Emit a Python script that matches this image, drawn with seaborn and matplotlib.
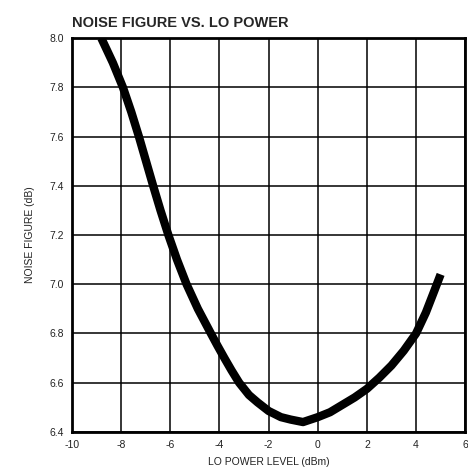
import matplotlib
matplotlib.use("Agg")
import matplotlib.pyplot as plt
import seaborn as sns
import pandas as pd

# values
lo_power = [-8.81, -8.34, -7.93, -7.59, -7.28, -6.99, -6.70, -6.40, -6.08, -5.73,
            -5.34, -4.88, -4.35, -4.08, -3.8, -3.51, -3.2, -2.8, -2.45, -2.0,
            -1.5, -1.1, -0.6, 0.0, 0.5, 1.0, 1.5, 2.0, 2.5, 3.0,
            3.5, 4.0, 4.4, 4.75, 5.0]
noise_fig = [8.0, 7.9, 7.8, 7.7, 7.6, 7.5, 7.4, 7.3, 7.2, 7.1,
             7.0, 6.9, 6.8, 6.75, 6.7, 6.65, 6.6, 6.55, 6.52, 6.485,
             6.46, 6.45, 6.44, 6.46, 6.48, 6.51, 6.54, 6.575, 6.62, 6.67,
             6.73, 6.80, 6.885, 6.975, 7.04]
x_ticks = [-10, -8, -6, -4, -2, 0, 2, 4, 6]
y_ticks = [6.4, 6.6, 6.8, 7.0, 7.2, 7.4, 7.6, 7.8, 8.0]

sns.set_style("white")
plt.rcParams['font.family'] = ['Liberation Sans', 'DejaVu Sans']

df = pd.DataFrame({"LO": lo_power, "NF": noise_fig})

fig = plt.figure(figsize=(4.68, 4.71), dpi=100)
ax = fig.add_axes([0.154, 0.083, 0.84, 0.836])

ax.set_xlim(-10, 6)
ax.set_ylim(6.4, 8.0)
ax.set_xticks(x_ticks)
ax.set_yticks(y_ticks)
ax.set_xticklabels([str(t) for t in x_ticks])
ax.set_yticklabels([f"{t:.1f}" for t in y_ticks])
ax.grid(True, color="black", linewidth=1.1)
ax.set_axisbelow(True)

sns.lineplot(data=df, x="LO", y="NF", ax=ax, color="black", linewidth=6,
             solid_capstyle="butt", solid_joinstyle="round", sort=False)

for s in ax.spines.values():
    s.set_color("black")
    s.set_linewidth(2)

ax.tick_params(axis="both", length=0, pad=6, labelsize=7.5, colors="#222222")
ax.set_xlabel("LO POWER LEVEL (dBm)", fontsize=7.5, color="#222222", labelpad=5)
ax.set_ylabel("NOISE FIGURE (dB)", fontsize=7.5, color="#222222", labelpad=10)
ax.set_title("NOISE FIGURE VS. LO POWER", loc="left", fontsize=10.5,
             fontweight="bold", x=0.0, pad=8)

fig.savefig("out.png", dpi=100)
